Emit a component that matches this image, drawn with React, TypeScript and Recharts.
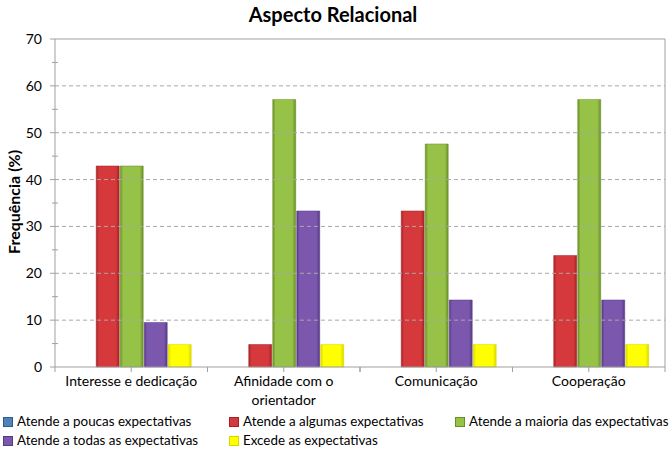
import React from "react";
import {
  BarChart,
  Bar,
  XAxis,
  YAxis,
  ReferenceLine,
  Legend,
  Text,
} from "recharts";

document.body.style.margin = "0";

const FONT = "Lato, 'Open Sans', sans-serif";

const categories = [
  "Interesse e dedicação",
  "Afinidade com o orientador",
  "Comunicação",
  "Cooperação",
];
const poucas = [0, 0, 0, 0];
const algumas = [42.9, 4.8, 33.3, 23.8];
const maioria = [42.9, 57.1, 47.6, 57.1];
const todas = [9.5, 33.3, 14.3, 14.3];
const excede = [4.8, 4.8, 4.8, 4.8];

const seriesNames = [
  "Atende a poucas expectativas",
  "Atende a algumas expectativas",
  "Atende a maioria das expectativas",
  "Atende a todas as expectativas",
  "Excede as expectativas",
];
const seriesKeys = ["poucas", "algumas", "maioria", "todas", "excede"];
const seriesColors = ["#4F81BD", "#D6393B", "#95C247", "#7B58AE", "#FFFF00"];
const seriesEdges = ["#2E5A8C", "#A32326", "#6A8F2A", "#563A85", "#D8D800"];

const yTicks = [0, 5, 10, 15, 20, 25, 30, 35, 40, 45, 50, 55, 60, 65, 70];
const gridValues = [10, 20, 30, 40, 50, 60];

const data = categories.map((c, i) => ({
  name: c,
  poucas: poucas[i],
  algumas: algumas[i],
  maioria: maioria[i],
  todas: todas[i],
  excede: excede[i],
}));

const YTick = (props: any) => {
  const { x, y, payload } = props;
  const major = payload.value % 10 === 0;
  return (
    <g>
      {major ? (
        <line x1={x - 5} x2={x} y1={y} y2={y} stroke="#A0A0A0" />
      ) : (
        <line x1={x - 3} x2={x + 3} y1={y} y2={y} stroke="#A0A0A0" />
      )}
      {major && (
        <text
          x={x - 13}
          y={y}
          dy={5}
          textAnchor="end"
          fontSize={14}
          fontFamily={FONT}
          fill="#000"
        >
          {payload.value}
        </text>
      )}
    </g>
  );
};

const XTick = (props: any) => {
  const { x, y, payload } = props;
  const off = payload.offset || 0;
  return (
    <g>
      <line x1={x} x2={x} y1={y} y2={y + 5} stroke="#A0A0A0" />
      <line x1={x - off} x2={x - off} y1={y} y2={y + 5} stroke="#A0A0A0" />
      <line x1={x + off} x2={x + off} y1={y} y2={y + 5} stroke="#A0A0A0" />
      <Text
        x={x}
        y={y + 9}
        width={145}
        textAnchor="middle"
        verticalAnchor="start"
        fontSize={14}
        fontFamily={FONT}
        fill="#000"
        lineHeight={19}
      >
        {payload.value}
      </Text>
    </g>
  );
};

const LegendContent = () => (
  <div
    style={{
      position: "relative",
      height: 40,
      width: 672,
      fontFamily: FONT,
      fontSize: 13.4,
      color: "#000",
    }}
  >
    {seriesNames.map((n, i) => {
      const col = i % 3;
      const row = Math.floor(i / 3);
      return (
        <div
          key={n}
          style={{
            position: "absolute",
            left: 3 + col * 226,
            top: 2 + row * 19,
            whiteSpace: "nowrap",
            display: "flex",
            alignItems: "center",
            lineHeight: "17px",
          }}
        >
          <span
            style={{
              display: "inline-block",
              width: 8,
              height: 8,
              background: seriesColors[i],
              border: `1px solid ${seriesEdges[i]}`,
              marginRight: 4,
            }}
          />
          {n}
        </div>
      );
    })}
  </div>
);

export default function App() {
  return (
    <div style={{ width: 672, height: 451, background: "#fff", position: "relative", overflow: "hidden" }}>
      <BarChart
        width={672}
        height={451}
        data={data}
        margin={{ top: 39, right: 7, bottom: 0, left: 0 }}
        barCategoryGap="11.3%"
        barGap={1}
      >
        <defs>
          {seriesKeys.map((k, i) => (
            <linearGradient key={k} id={`g-${k}`} x1="0" y1="0" x2="1" y2="0">
              <stop offset="0%" stopColor={seriesEdges[i]} />
              <stop offset="12%" stopColor={seriesColors[i]} />
              <stop offset="85%" stopColor={seriesColors[i]} />
              <stop offset="100%" stopColor={seriesEdges[i]} />
            </linearGradient>
          ))}
        </defs>
        <text
          x={333}
          y={22}
          textAnchor="middle"
          fontSize={20}
          fontWeight="bold"
          fontFamily={FONT}
          fill="#000"
        >
          Aspecto Relacional
        </text>
        <text
          x={20}
          y={202}
          transform="rotate(-90 20 202)"
          textAnchor="middle"
          fontSize={16}
          fontWeight="bold"
          fontFamily={FONT}
          fill="#000"
        >
          Frequência (%)
        </text>
        {gridValues.map((v) => (
          <ReferenceLine
            key={v}
            y={v}
            stroke="#A8A8A8"
            strokeDasharray="4 3"
          />
        ))}
        <ReferenceLine y={70} stroke="#A0A0A0" />
        <ReferenceLine
          x={categories[categories.length - 1]}
          position="end"
          stroke="#A0A0A0"
        />
        <XAxis
          dataKey="name"
          height={44}
          interval={0}
          tick={<XTick />}
          tickLine={false}
          tickSize={0}
          tickMargin={0}
          axisLine={{ stroke: "#A0A0A0" }}
        />
        <YAxis
          domain={[0, 70]}
          ticks={yTicks}
          interval={0}
          width={55}
          tick={<YTick />}
          tickLine={false}
          tickSize={0}
          tickMargin={0}
          axisLine={{ stroke: "#A0A0A0" }}
        />
        <Legend
          verticalAlign="bottom"
          align="left"
          content={<LegendContent />}
          wrapperStyle={{ left: 0, width: 672, height: 40 }}
        />
        {seriesKeys.map((k, i) => (
          <Bar
            key={k}
            dataKey={k}
            name={seriesNames[i]}
            fill={`url(#g-${k})`}
            stroke={seriesEdges[i]}
            strokeWidth={0.5}
            isAnimationActive={false}
          />
        ))}
      </BarChart>
    </div>
  );
}
